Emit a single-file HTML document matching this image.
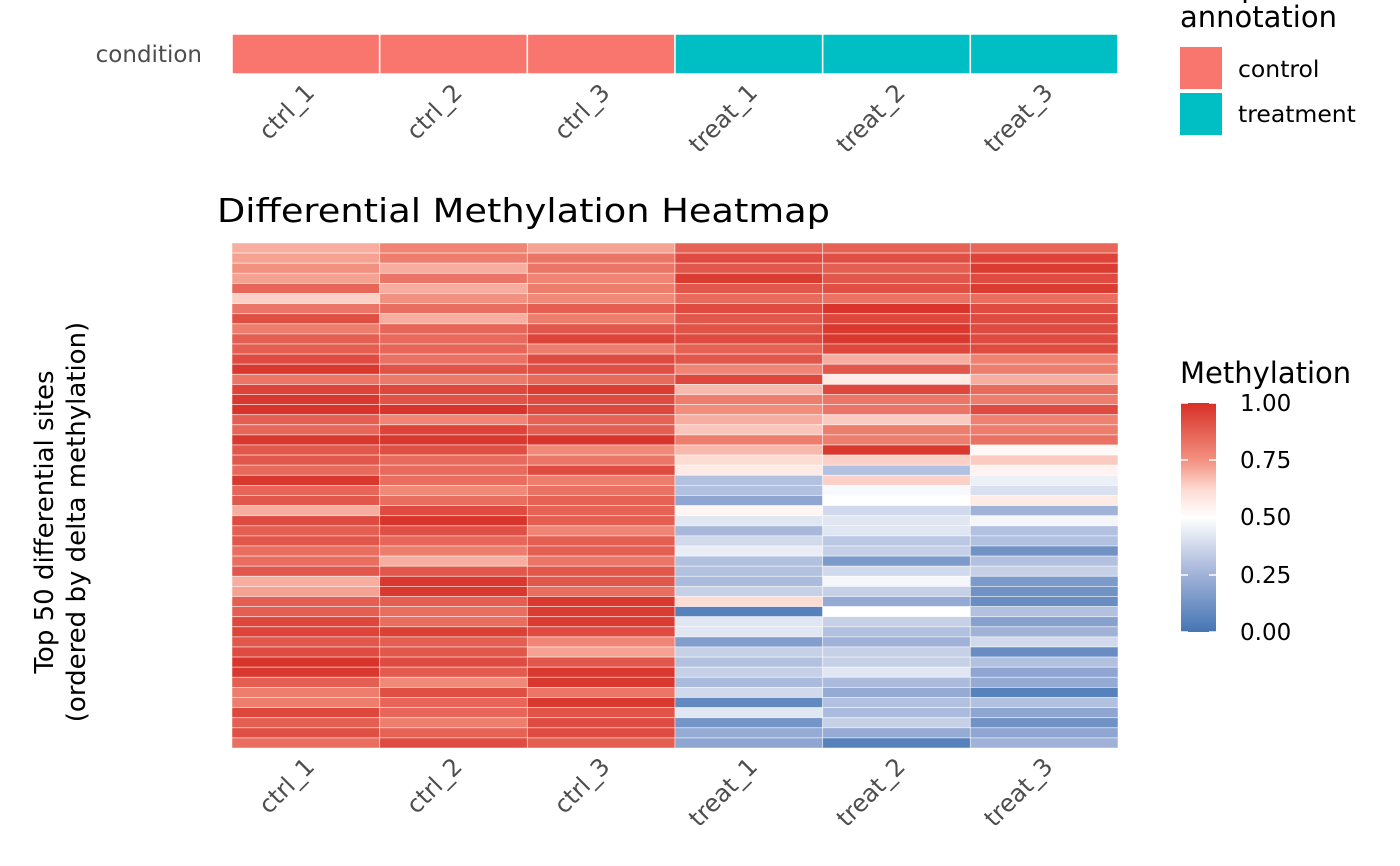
<!DOCTYPE html>
<html><head><meta charset="utf-8"><style>body{margin:0;background:#fff}svg{display:block}text{font-family:"DejaVu Sans","Liberation Sans",sans-serif}</style></head>
<body>
<svg id="s" width="1400" height="866" xmlns="http://www.w3.org/2000/svg">
<defs><linearGradient id="g" x1="0" y1="1" x2="0" y2="0">
<stop offset="0" stop-color="#4575b4"/><stop offset="0.25" stop-color="rgb(160,178,216)"/><stop offset="0.5" stop-color="#ffffff"/><stop offset="0.62" stop-color="rgb(253,220,212)"/><stop offset="0.75" stop-color="rgb(243,145,128)"/><stop offset="1" stop-color="#d73027"/></linearGradient></defs>
<g id="cond"></g>
<g id="heat"></g>
<text x="202" y="62" font-size="23" fill="#4d4d4d" text-anchor="end">condition</text>
<text x="217" y="222" font-size="33" fill="#000" textLength="613" lengthAdjust="spacingAndGlyphs">Differential Methylation Heatmap</text>
<text transform="translate(53,522) rotate(-90)" font-size="26" text-anchor="middle" fill="#000">Top 50 differential sites</text>
<text transform="translate(85,522) rotate(-90)" font-size="26" text-anchor="middle" fill="#000">(ordered by delta methylation)</text>
<g id="lab1"></g><g id="lab2"></g>
<text x="1180" y="27" font-size="29" fill="#000">annotation</text>
<text x="1180" y="-3" font-size="29" fill="#000">sample</text>
<rect x="1180" y="47" width="42" height="42" fill="#f8766d"/>
<rect x="1180" y="93" width="42" height="42" fill="#00bfc4"/>
<text x="1238" y="77" font-size="23.5" fill="#000">control</text>
<text x="1238" y="122" font-size="23.5" fill="#000">treatment</text>
<text x="1180" y="383" font-size="29" fill="#000">Methylation</text>
<rect x="1181" y="403" width="35" height="229" fill="url(#g)"/>
<g font-size="23" fill="#000">
<text x="1240" y="411">1.00</text><text x="1240" y="468">0.75</text><text x="1240" y="525">0.50</text><text x="1240" y="583">0.25</text><text x="1240" y="640">0.00</text></g>
<g stroke="#fff" stroke-width="1.5"><line x1="1181" y1="403" x2="1188" y2="403"/><line x1="1209" y1="403" x2="1216" y2="403"/><line x1="1181" y1="460" x2="1188" y2="460"/><line x1="1209" y1="460" x2="1216" y2="460"/><line x1="1181" y1="517" x2="1188" y2="517"/><line x1="1209" y1="517" x2="1216" y2="517"/><line x1="1181" y1="575" x2="1188" y2="575"/><line x1="1209" y1="575" x2="1216" y2="575"/><line x1="1181" y1="632" x2="1188" y2="632"/><line x1="1209" y1="632" x2="1216" y2="632"/></g>
</svg>
<script>
var V=[[.7,.78,.72,.87,.87,.86],[.72,.8,.82,.93,.92,.95],[.75,.7,.82,.9,.88,.97],[.72,.82,.78,.97,.9,.93],[.86,.7,.8,.9,.92,.97],[.64,.75,.77,.85,.83,.84],[.82,.84,.88,.93,.99,.93],[.92,.7,.8,.9,.94,.93],[.8,.86,.9,.91,.98,.93],[.88,.85,.95,.93,.98,.93],[.88,.86,.8,.87,.94,.93],[.93,.83,.93,.9,.7,.79],[.98,.91,.92,.78,.9,.8],[.82,.81,.85,.94,.57,.7],[.95,.94,.97,.68,.94,.85],[.98,.91,.93,.8,.82,.8],[.99,.99,.94,.76,.82,.93],[.88,.78,.87,.7,.65,.79],[.86,.95,.88,.66,.8,.8],[.98,.98,.99,.8,.8,.83],[.9,.92,.77,.68,.98,.52],[.9,.85,.82,.62,.64,.65],[.85,.85,.93,.57,.3,.54],[.98,.84,.8,.3,.64,.45],[.86,.77,.83,.3,.48,.4],[.9,.84,.87,.2,.5,.57],[.7,.93,.87,.53,.38,.25],[.93,.99,.88,.42,.42,.47],[.88,.92,.78,.27,.42,.3],[.9,.86,.88,.38,.32,.3],[.84,.8,.88,.44,.35,.12],[.84,.7,.82,.3,.15,.3],[.9,.9,.9,.3,.38,.35],[.7,.98,.9,.28,.47,.15],[.72,.98,.84,.35,.35,.12],[.88,.88,.98,.62,.22,.1],[.88,.84,.97,.05,.5,.3],[.94,.84,.97,.42,.35,.18],[.95,.96,.93,.42,.3,.25],[.9,.88,.78,.17,.25,.38],[.93,.9,.72,.35,.35,.1],[.99,.93,.9,.3,.35,.3],[.98,.89,.98,.35,.42,.2],[.88,.77,.98,.28,.28,.22],[.8,.92,.82,.38,.22,.05],[.8,.86,.98,.08,.3,.3],[.94,.86,.91,.42,.28,.2],[.88,.8,.93,.13,.35,.12],[.92,.87,.93,.22,.22,.2],[.84,.93,.88,.2,.05,.25]];
var S=[[0,[69,117,180]],[.25,[160,178,216]],[.5,[255,255,255]],[.62,[253,220,212]],[.75,[243,145,128]],[1,[215,48,39]]];
function col(v){for(var i=0;i<S.length-1;i++){if(v<=S[i+1][0]){var t=(v-S[i][0])/(S[i+1][0]-S[i][0]),a=S[i][1],b=S[i+1][1];
return "rgb("+a.map((x,j)=>Math.round(x+(b[j]-x)*t)).join(",")+")";}}return "rgb(215,48,39)";}
var h="",x0=232,w=(1118-232)/6,y0=243,rh=(748-243)/50;
for(var r=0;r<50;r++)for(var c=0;c<6;c++)h+='<rect x="'+(x0+c*w)+'" y="'+(y0+r*rh)+'" width="'+w+'" height="'+rh+'" fill="'+col(V[r][c])+'" stroke="#fff" stroke-opacity="0.6" stroke-width="0.8"/>';
document.getElementById("heat").innerHTML=h;
var ch="";for(c=0;c<6;c++)ch+='<rect x="'+(x0+c*w)+'" y="34" width="'+w+'" height="40" fill="'+(c<3?"#f8766d":"#00bfc4")+'" stroke="#fff" stroke-width="1.5"/>';
document.getElementById("cond").innerHTML=ch;
var n=["ctrl_1","ctrl_2","ctrl_3","treat_1","treat_2","treat_3"],l1="",l2="";
for(c=0;c<6;c++){var cx=x0+c*w+w/2;
l1+='<text transform="translate('+(cx+10)+',94) rotate(-45)" font-size="24" fill="#4d4d4d" text-anchor="end">'+n[c]+'</text>';
l2+='<text transform="translate('+(cx+10)+',768) rotate(-45)" font-size="24" fill="#4d4d4d" text-anchor="end">'+n[c]+'</text>';}
document.getElementById("lab1").innerHTML=l1;document.getElementById("lab2").innerHTML=l2;
</script>
</body></html>
